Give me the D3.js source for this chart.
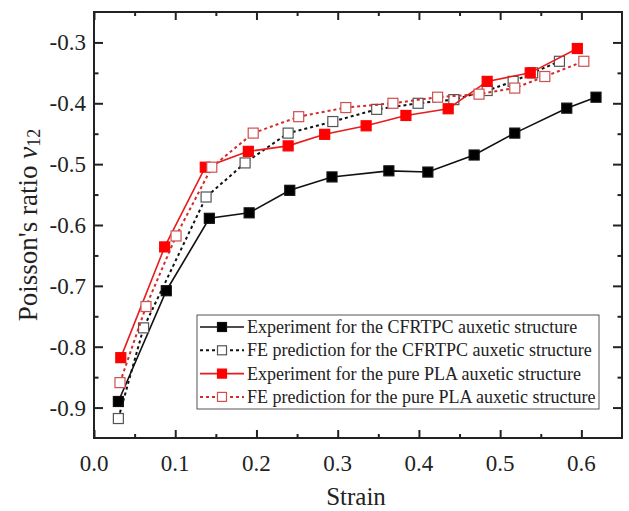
<!DOCTYPE html>
<meta charset="utf-8">
<style>
  body { margin: 0; background: #fff; }
  text { font-family: "Liberation Serif", "Times New Roman", serif; fill: #222; }
</style>
<svg class="chart"></svg>
<script src="https://d3js.org/d3.v7.min.js"></script>
<script>

  var width  = 629;
  var height = 511;

  // strain / Poisson's ratio
  var expCfrtpcX = [0.030, 0.089, 0.142, 0.191, 0.241, 0.293, 0.363, 0.411, 0.468, 0.518, 0.582, 0.618];
  var expCfrtpcY = [-0.890, -0.708, -0.589, -0.580, -0.543, -0.521, -0.511, -0.513, -0.485, -0.449, -0.408, -0.390];

  var feCfrtpcX = [0.030, 0.061, 0.138, 0.186, 0.239, 0.294, 0.348, 0.399, 0.443, 0.484, 0.516, 0.540, 0.573];
  var feCfrtpcY = [-0.918, -0.769, -0.554, -0.498, -0.449, -0.430, -0.410, -0.400, -0.394, -0.379, -0.364, -0.350, -0.331];

  var expPlaX = [0.033, 0.087, 0.137, 0.190, 0.239, 0.284, 0.335, 0.384, 0.436, 0.484, 0.537, 0.595];
  var expPlaY = [-0.818, -0.636, -0.505, -0.479, -0.470, -0.451, -0.437, -0.420, -0.409, -0.364, -0.350, -0.310];

  var fePlaX = [0.032, 0.064, 0.101, 0.145, 0.196, 0.252, 0.310, 0.368, 0.423, 0.474, 0.518, 0.555, 0.603];
  var fePlaY = [-0.859, -0.734, -0.618, -0.505, -0.449, -0.422, -0.407, -0.400, -0.390, -0.385, -0.375, -0.356, -0.331];

  var seriesNames = [
    "Experiment for the CFRTPC auxetic structure",
    "FE prediction for the CFRTPC auxetic structure",
    "Experiment for the pure PLA auxetic structure",
    "FE prediction for the pure PLA auxetic structure"
  ];

  var xTicks = [0, 0.1, 0.2, 0.3, 0.4, 0.5, 0.6];
  var yTicks = [-0.9, -0.8, -0.7, -0.6, -0.5, -0.4, -0.3];

  var series = [
    { name: seriesNames[0], xs: expCfrtpcX, ys: expCfrtpcY, line: "#111", marker: "#111", fill: "#000", dash: null },
    { name: seriesNames[1], xs: feCfrtpcX,  ys: feCfrtpcY,  line: "#111", marker: "#555", fill: "#fff", dash: "3,3" },
    { name: seriesNames[2], xs: expPlaX,    ys: expPlaY,    line: "#e81c1c", marker: "#ff0000", fill: "#ff0000", dash: null },
    { name: seriesNames[3], xs: fePlaX,     ys: fePlaY,     line: "#d42a2a", marker: "#d05050", fill: "#fff", dash: "3,3" }
  ];

  var plotLeft = 94, plotRight = 622, plotTop = 12, plotBottom = 438;

  var x = d3.scaleLinear().domain([0, 0.65]).range([plotLeft, plotRight]);
  var y = d3.scaleLinear().domain([-0.95, -0.25]).range([plotBottom, plotTop]);

  var chart = d3.select(".chart")
      .attr("width", width)
      .attr("height", height);

  var xMinor = d3.range(0.05, 0.65, 0.1);
  var yMinor = d3.range(-0.85, -0.25, 0.1);

  // axes with inward ticks on all four sides
  function axisPair(axis, pos, major, minor, size) {
    chart.append("g")
        .attr("transform", pos)
        .call(axis.tickValues(major).tickSize(size).tickFormat(""))
        .call(function(g) { g.select(".domain").remove(); });
    chart.append("g")
        .attr("transform", pos)
        .call(axis.tickValues(minor).tickSize(size / 2).tickFormat(""))
        .call(function(g) { g.select(".domain").remove(); });
  }

  axisPair(d3.axisTop(x), "translate(0," + plotBottom + ")", xTicks, xMinor, 8);
  axisPair(d3.axisBottom(x), "translate(0," + plotTop + ")", xTicks, xMinor, 8);
  axisPair(d3.axisRight(y), "translate(" + plotLeft + ",0)", yTicks, yMinor, 9);
  axisPair(d3.axisLeft(y), "translate(" + plotRight + ",0)", yTicks, yMinor, 9);

  chart.selectAll(".tick line").attr("stroke", "#222").attr("stroke-width", 2);

  chart.append("rect")
      .attr("x", plotLeft).attr("y", plotTop)
      .attr("width", plotRight - plotLeft).attr("height", plotBottom - plotTop)
      .attr("fill", "none").attr("stroke", "#222").attr("stroke-width", 2);

  chart.append("g").selectAll("text")
    .data(xTicks)
    .enter().append("text")
      .attr("x", function(d) { return x(d); })
      .attr("y", 471)
      .attr("text-anchor", "middle")
      .style("font-size", "23px")
      .text(function(d) { return d.toFixed(1); });

  chart.append("g").selectAll("text")
    .data(yTicks)
    .enter().append("text")
      .attr("x", 86)
      .attr("y", function(d) { return y(d) + 8; })
      .attr("text-anchor", "end")
      .style("font-size", "23px")
      .text(function(d) { return d.toFixed(1); });

  chart.append("text")
      .attr("x", 356).attr("y", 505)
      .attr("text-anchor", "middle")
      .style("font-size", "25px")
      .text("Strain");

  var yTitle = chart.append("text")
      .attr("transform", "translate(37,225) rotate(-90)")
      .attr("text-anchor", "middle")
      .style("font-size", "27px");
  yTitle.append("tspan").text("Poisson's ratio ");
  yTitle.append("tspan").style("font-style", "italic").text("\u03bd");
  yTitle.append("tspan").style("font-size", "18px").attr("dy", 3).text("12");

  var line = d3.line()
      .x(function(d) { return x(d[0]); })
      .y(function(d) { return y(d[1]); });

  var ms = 10;

  series.forEach(function(s) {
    var pts = s.xs.map(function(v, i) { return [v, s.ys[i]]; });
    var g = chart.append("g");
    g.append("path")
        .attr("d", line(pts))
        .attr("fill", "none")
        .attr("stroke", s.line)
        .attr("stroke-width", s.dash ? 2 : 1.6)
        .attr("stroke-dasharray", s.dash);
    g.selectAll("rect")
      .data(pts)
      .enter().append("rect")
        .attr("x", function(d) { return x(d[0]) - ms / 2; })
        .attr("y", function(d) { return y(d[1]) - ms / 2; })
        .attr("width", ms).attr("height", ms)
        .attr("fill", s.fill)
        .attr("stroke", s.marker)
        .attr("stroke-width", 1.2);
  });

  // legend
  var legend = chart.append("g");
  legend.append("rect")
      .attr("x", 197).attr("y", 315)
      .attr("width", 402).attr("height", 94)
      .attr("fill", "#fff").attr("stroke", "#555").attr("stroke-width", 1);

  series.forEach(function(s, i) {
    var ly = 327 + i * 23.3;
    legend.append("line")
        .attr("x1", 200).attr("x2", 244)
        .attr("y1", ly).attr("y2", ly)
        .attr("stroke", s.line)
        .attr("stroke-width", s.dash ? 2 : 1.6)
        .attr("stroke-dasharray", s.dash);
    legend.append("rect")
        .attr("x", 222 - 4.5).attr("y", ly - 4.5)
        .attr("width", 9).attr("height", 9)
        .attr("fill", s.fill).attr("stroke", s.marker).attr("stroke-width", 1.2);
    legend.append("text")
        .attr("x", 247).attr("y", ly + 6)
        .style("font-size", "18px")
        .text(s.name);
  });

</script>
